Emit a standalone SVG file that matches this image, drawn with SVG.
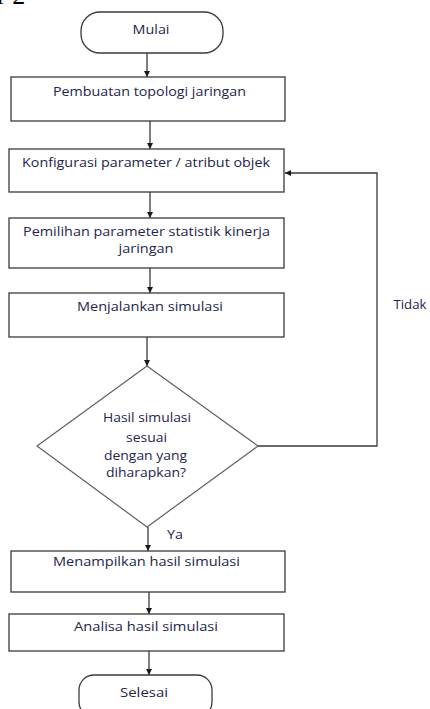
<svg xmlns="http://www.w3.org/2000/svg" width="430" height="709" viewBox="0 0 430 709">
<style>
.n{fill:#fff;stroke:#3a3a3a;stroke-width:1.3}
.d{fill:#fff;stroke:#606060;stroke-width:1.2}
.t{font-family:"Open Sans","Noto Sans",sans-serif;font-size:13px;fill:#25254a;text-anchor:middle}
.s{font-size:12px}
.c{fill:none;stroke:#3a3a3a;stroke-width:1.3;marker-end:url(#ah)}
</style>
<defs>
<marker id="ah" viewBox="0 0 8 8" refX="8" refY="4" markerWidth="6" markerHeight="6" orient="auto" markerUnits="userSpaceOnUse">
<path d="M0,0 L8,4 L0,8 z" fill="#1a1a1a"/>
</marker>
</defs>
<rect width="430" height="709" fill="#fff"/>
<text x="-3" y="4" font-family="Liberation Serif,serif" font-size="26" fill="#000">r 2</text>
<g id="connectors">
<path class="c" d="M147,53 V77"/>
<path class="c" d="M150,121 V149"/>
<path class="c" d="M150,192 V218"/>
<path class="c" d="M150,268 V293"/>
<path class="c" d="M147,337 V366"/>
<path class="c" d="M148,527 V551"/>
<path class="c" d="M149,592 V614"/>
<path class="c" d="M149,651 V675"/>
<path class="c" d="M258,446 H377 V173 H285"/>
<text class="t" x="410" y="309" textLength="33" lengthAdjust="spacingAndGlyphs">Tidak</text>
<text class="t" x="175" y="539" textLength="16" lengthAdjust="spacingAndGlyphs">Ya</text>
</g>
<g id="start">
<rect class="n" x="81" y="12" width="142" height="41" rx="19"/>
<text class="t" x="151" y="34" textLength="37" lengthAdjust="spacingAndGlyphs">Mulai</text>
</g>
<g id="topologi">
<rect class="n" x="11" y="77" width="274" height="44"/>
<text class="t" x="149.5" y="96" textLength="193" lengthAdjust="spacingAndGlyphs">Pembuatan topologi jaringan</text>
</g>
<g id="konfigurasi">
<rect class="n" x="9" y="149" width="275" height="43"/>
<text class="t" x="146" y="167" textLength="248" lengthAdjust="spacingAndGlyphs">Konfigurasi parameter / atribut objek</text>
</g>
<g id="pemilihan">
<rect class="n" x="9" y="218" width="275" height="50"/>
<text class="t s" x="146.5" y="235.5" textLength="247" lengthAdjust="spacingAndGlyphs">Pemilihan parameter statistik kinerja</text>
<text class="t s" x="146" y="252.5" textLength="55" lengthAdjust="spacingAndGlyphs">jaringan</text>
</g>
<g id="menjalankan">
<rect class="n" x="9" y="293" width="275" height="44"/>
<text class="t" x="150" y="311" textLength="146" lengthAdjust="spacingAndGlyphs">Menjalankan simulasi</text>
</g>
<g id="decision">
<path class="d" d="M147,366 L258,446 L147,527 L37,446 Z"/>
<text class="t" x="147" y="422" textLength="88" lengthAdjust="spacingAndGlyphs">Hasil simulasi</text>
<text class="t" x="146.5" y="442" textLength="41" lengthAdjust="spacingAndGlyphs">sesuai</text>
<text class="t" x="145.5" y="460" textLength="83" lengthAdjust="spacingAndGlyphs">dengan yang</text>
<text class="t" x="146" y="477" textLength="80" lengthAdjust="spacingAndGlyphs">diharapkan?</text>
</g>
<g id="menampilkan">
<rect class="n" x="11" y="551" width="274" height="41"/>
<text class="t" x="146.5" y="566" textLength="187" lengthAdjust="spacingAndGlyphs">Menampilkan hasil simulasi</text>
</g>
<g id="analisa">
<rect class="n" x="9" y="614" width="275" height="37"/>
<text class="t" x="146" y="631" textLength="144" lengthAdjust="spacingAndGlyphs">Analisa hasil simulasi</text>
</g>
<g id="end">
<rect class="n" x="79" y="675" width="133" height="42" rx="15"/>
<text class="t" x="144" y="697" textLength="48" lengthAdjust="spacingAndGlyphs">Selesai</text>
</g>
</svg>
